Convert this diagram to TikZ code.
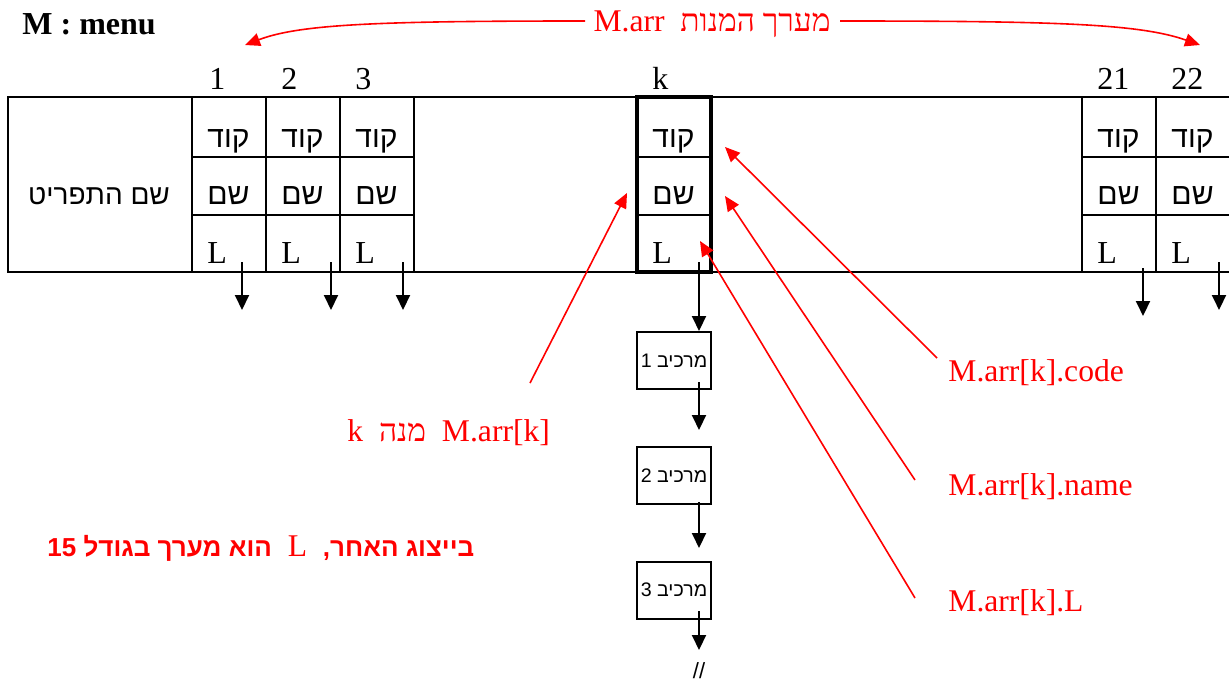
\documentclass[tikz,border=0pt]{standalone}
\usepackage{fontspec}
\setmainfont{Liberation Serif}
\newfontfamily\hebsans[Script=Hebrew]{Liberation Sans}
\newfontfamily\hebserif[Script=Hebrew]{Liberation Serif}
\TeXXeTstate=1
\usetikzlibrary{arrows.meta}
\begin{document}
\begin{tikzpicture}[x=0.5pt,y=-0.5pt,
  num/.style={anchor=base west, inner sep=0, font=\fontsize{16}{16}\selectfont},
  heb/.style={anchor=base west, inner sep=0, font=\hebsans\fontsize{15}{15}\selectfont},
  ltr/.style={anchor=base west, inner sep=0, font=\fontsize{16}{16}\selectfont},
  redlbl/.style={text=red, inner sep=0, anchor=base west, font=\fontsize{15.8}{15.8}\selectfont},
  tbl/.style={line width=1pt},
  blk/.style={-{Triangle[length=7.5pt,width=7pt]}, line width=1pt},
  redarr/.style={red, line width=0.8pt, -{Triangle[length=7.5pt,width=6.5pt]}},
  comp/.style={draw, line width=1pt, minimum width=37pt, minimum height=28.5pt, inner sep=0, font=\hebsans\fontsize{9.8}{9.8}\selectfont}]
\useasboundingbox (0,0) rectangle (1229,685);
% title
\node[anchor=base west, inner sep=0, font=\bfseries\fontsize{16}{16}\selectfont] (title) at (22,34) {M : menu};
\node[redlbl, anchor=base] (marr) at (712,31) {M.arr\ \ {\hebserif\beginR מערך המנות\endR}};
\coordinate (ml) at (585,21); \coordinate (mr) at (840,21);
\coordinate (tl) at (245,45); \coordinate (tr) at (1200,45);
\draw[redarr] (ml) .. controls (380,21) and (300,24) .. (tl);
\draw[redarr] (mr) .. controls (1060,21) and (1140,24) .. (tr);
% left box
\draw[line width=0.7pt] (8,97) rectangle (192,272);
\node[heb, anchor=base, font=\hebsans\fontsize{14}{14}\selectfont] (menuname) at (99,204) {\beginR שם התפריט\endR};
% table lines
\draw[tbl] (192,97) -- (1229,97);
\draw[tbl] (192,272) -- (1229,272);
\foreach \x in {192,266,340,414,1082,1156} \draw[tbl] (\x,97) -- (\x,272);
\foreach \y in {157,215} {
  \draw[tbl] (192,\y) -- (414,\y);
  \draw[tbl] (1082,\y) -- (1229,\y);
  \draw[tbl] (637,\y) -- (711,\y);
}
\draw[line width=2.2pt] (637,97) rectangle (711,272);
% cell texts
\foreach \x in {192,266,340,637,1082,1156} {
  \node[heb] (code\x) at (\x+15,147) {\beginR קוד\endR};
  \node[heb] (name\x) at (\x+15,204) {\beginR שם\endR};
  \node[ltr] (L\x) at (\x+15,263) {L};
}
% indices
\node[num] (i1) at (209,89) {1};
\node[num] (i2) at (281,89) {2};
\node[num] (i3) at (355,89) {3};
\node[num] (ik) at (652,89) {k};
\node[num] (i21) at (1097,89) {21};
\node[num] (i22) at (1171,89) {22};
% black arrows from L
\foreach \x/\s/\e in {242/262/310, 331/262/310, 403/262/310, 1143/268/316, 1219/262/310} {
  \coordinate (as\x) at (\x,\s); \coordinate (ae\x) at (\x,\e);
  \draw[blk] (as\x) -- (ae\x);
}
% component chain
\node[comp] (c1) at (674,360.5) {1 \beginR מרכיב\endR};
\node[comp] (c2) at (674,475.5) {2 \beginR מרכיב\endR};
\node[comp] (c3) at (674,590) {3 \beginR מרכיב\endR};
\coordinate (ks) at (699,262);
\draw[blk] (ks) -- (ks |- c1.north);
\coordinate (c1s) at (699,382); \coordinate (c1e) at (699,430);
\coordinate (c2s) at (699,502); \coordinate (c2e) at (699,548);
\coordinate (c3s) at (699,611); \coordinate (c3e) at (699,650);
\draw[blk] (c1s) -- (c1e);
\draw[blk] (c2s) -- (c2e);
\draw[blk] (c3s) -- (c3e);
\node[inner sep=0, font=\hebsans\fontsize{11}{11}\selectfont] (brk) at (699,671) {//};
% red labels
\node[redlbl] (lcode) at (948,381) {M.arr[k].code};
\node[redlbl] (lname) at (948,495) {M.arr[k].name};
\node[redlbl] (lL) at (948,611) {M.arr[k].L};
\node[redlbl] (lk) at (347,441) {k\ \ {\hebserif\beginR מנה\endR}\ \ M.arr[k]};
\node[redlbl] (note) at (47,556) {{\hebsans\bfseries\fontsize{13}{13}\selectfont 15 \beginR הוא מערך בגודל\endR}\ \ L\ \ {\hebsans\bfseries\fontsize{13}{13}\selectfont\beginR בייצוג האחר,\endR}};
% red arrows
\coordinate (scode) at (937,358); \coordinate (pcode) at (725,147);
\coordinate (sname) at (915,480); \coordinate (pname) at (725,196);
\coordinate (sL) at (915,598);    \coordinate (pL) at (700,241);
\coordinate (sk) at (530,383);    \coordinate (pk) at (627,193);
\draw[redarr] (scode) -- (pcode);
\draw[redarr] (sname) -- (pname);
\draw[redarr] (sL) -- (pL);
\draw[redarr] (sk) -- (pk);
\end{tikzpicture}
\end{document}
